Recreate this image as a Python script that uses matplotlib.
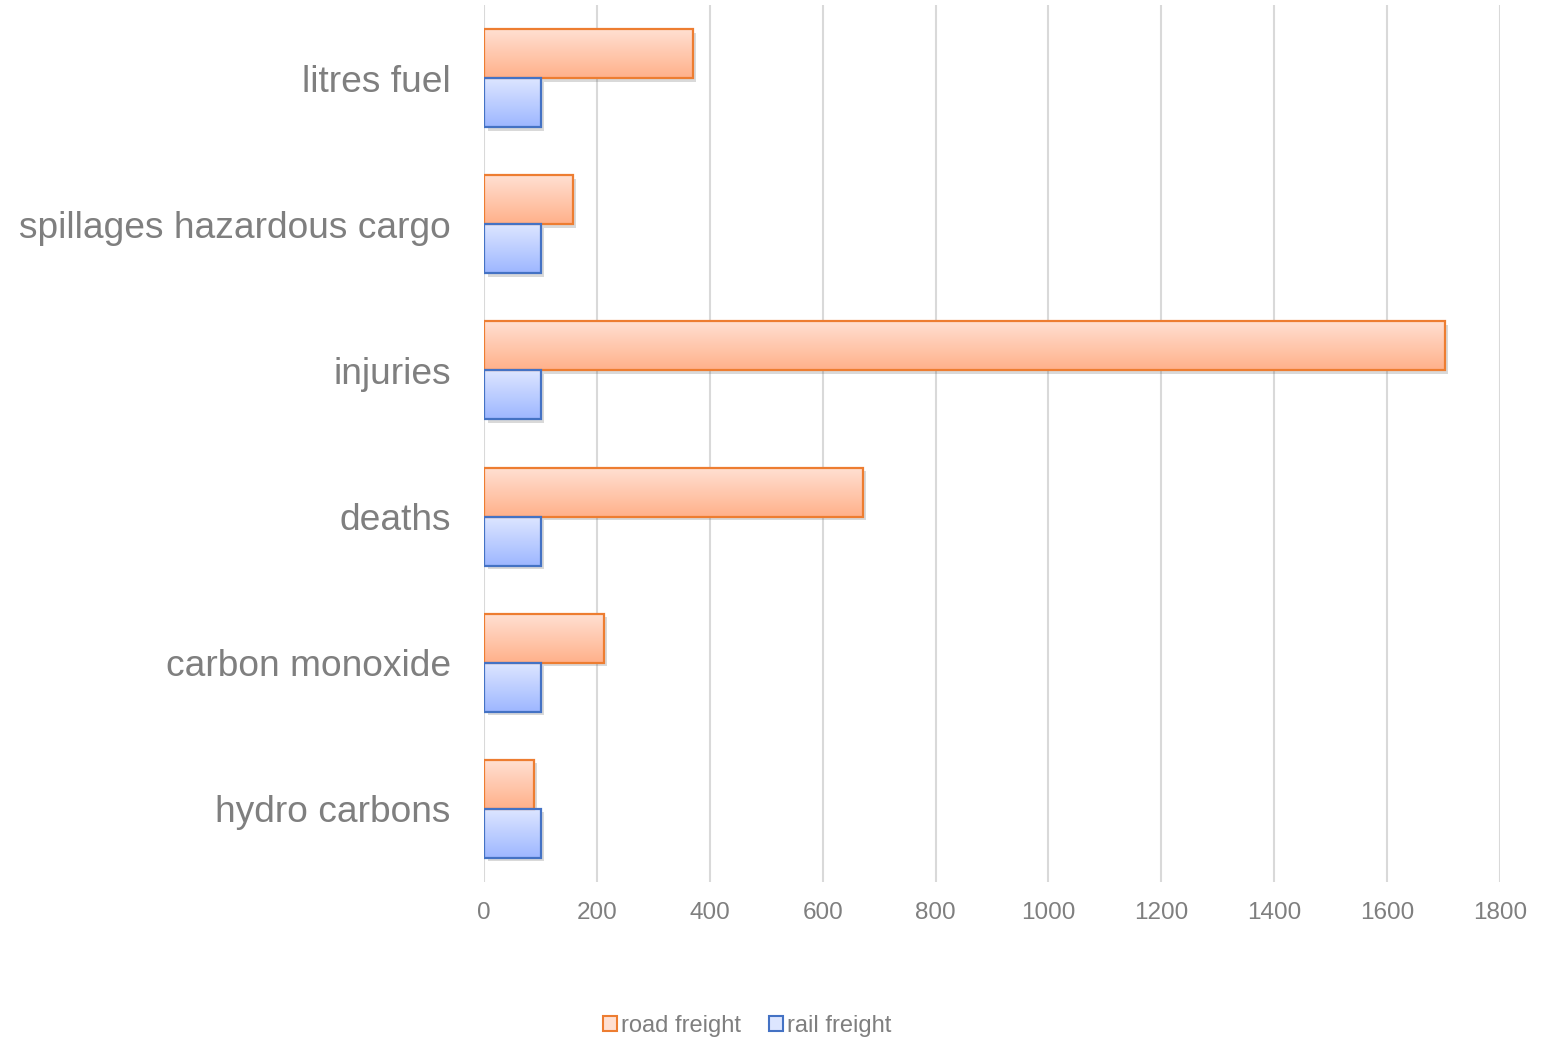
import numpy as np
import matplotlib
matplotlib.use("Agg")
import matplotlib.pyplot as plt
import matplotlib.patheffects as pe
from matplotlib.colors import LinearSegmentedColormap

plt.rcParams['font.family'] = ['Liberation Sans', 'DejaVu Sans']

categories = ["hydro carbons", "carbon monoxide", "deaths", "injuries",
              "spillages hazardous cargo", "litres fuel"]
road_freight = [88, 212, 671, 1702, 157, 370]
rail_freight = [100, 100, 100, 100, 100, 100]
xticks = [0, 200, 400, 600, 800, 1000, 1200, 1400, 1600, 1800]

fig = plt.figure(figsize=(15.5, 10.45), dpi=100)
ax = fig.add_axes([0.3123, 0.156, 0.6554, 0.8392])

y = np.arange(len(categories))
h = 0.335

series = [
    (road_freight, +h / 2, "#ED7D31", "#FFE0D2", "#FFB08A", "road freight"),
    (rail_freight, -h / 2, "#4472C4", "#DDE6FF", "#9DB6FF", "rail freight"),
]

grad = np.linspace(0, 1, 256).reshape(-1, 1)
handles = []
for vals, off, edge, ctop, cbot, lab in series:
    cmap = LinearSegmentedColormap.from_list(lab, [ctop, cbot])
    bars = ax.barh(y + off, vals, height=h, color=cbot, edgecolor='none', zorder=3,
                   path_effects=[pe.SimplePatchShadow(offset=(2.5, -2.5), alpha=0.22, shadow_rgbFace='#555555'),
                                 pe.Normal()])
    for b in bars:
        x0, y0, w, hh = b.get_x(), b.get_y(), b.get_width(), b.get_height()
        im = ax.imshow(grad, extent=(x0, x0 + w, y0, y0 + hh), origin='upper',
                       cmap=cmap, aspect='auto', zorder=4, interpolation='bicubic')
        im.set_clip_path(b)
    ax.barh(y + off, vals, height=h, facecolor='none', edgecolor=edge, linewidth=1.6, zorder=5)
    handles.append(plt.Rectangle((0, 0), 1, 1, facecolor=ctop, edgecolor=edge, linewidth=1.5))

ax.set_xlim(0, 1800)
ax.set_ylim(-0.5, len(categories) - 0.5)
ax.set_xticks(xticks)
ax.set_xticklabels([str(t) for t in xticks])
ax.set_yticks(y)
ax.set_yticklabels(categories)
ax.tick_params(axis='y', length=0, pad=24, labelsize=26.7, labelcolor='#7F7F7F')
ax.tick_params(axis='x', length=0, pad=14.5, labelsize=17.5, labelcolor='#7F7F7F')
for s in ax.spines.values():
    s.set_visible(False)
ax.grid(axis='x', color='#D9D9D9', linewidth=1.5, zorder=0)
ax.set_axisbelow(True)

fig.legend(handles, ["road freight", "rail freight"], loc='center',
           bbox_to_anchor=(0.482, 0.018), ncol=2, frameon=False, fontsize=17,
           labelcolor='#7F7F7F', handlelength=0.6, handleheight=0.6,
           handletextpad=0.15, columnspacing=1.2)

fig.savefig("out.png", dpi=100)
